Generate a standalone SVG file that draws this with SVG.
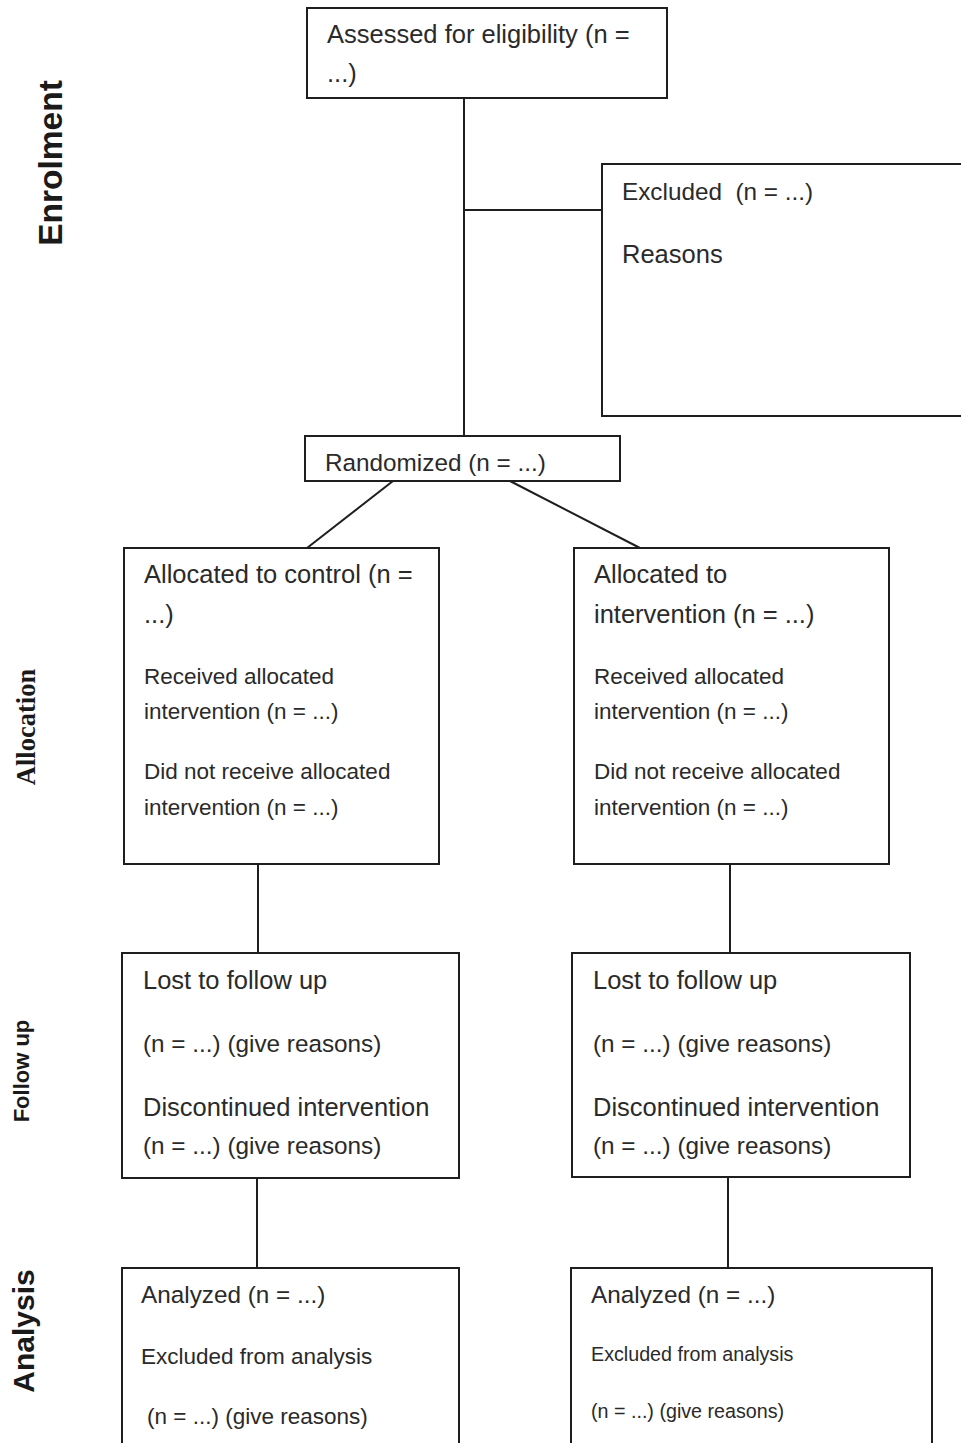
<svg xmlns="http://www.w3.org/2000/svg" width="961" height="1443" viewBox="0 0 961 1443">
<style>
.box{fill:none;stroke:#1e1e1e;stroke-width:2}
.ln{fill:none;stroke:#1e1e1e;stroke-width:2}
text{font-family:"Liberation Sans",Arial,sans-serif;fill:#2a2a2a}
.t{font-size:25.5px}
.m{font-size:24.3px}
.s{font-size:22.5px}
.xs{font-size:19.7px}
.side{font-weight:bold;fill:#1a1a1a}
</style>
<rect x="0" y="0" width="961" height="1443" fill="#ffffff"/>
<g id="connectors">
<polyline class="ln" points="464,98 464,436"/>
<line class="ln" x1="464" y1="210" x2="602" y2="210"/>
<line class="ln" x1="393" y1="481" x2="307" y2="548"/>
<line class="ln" x1="510" y1="481" x2="640" y2="548"/>
<line class="ln" x1="258" y1="864" x2="258" y2="953"/>
<line class="ln" x1="730" y1="864" x2="730" y2="953"/>
<line class="ln" x1="257" y1="1178" x2="257" y2="1268"/>
<line class="ln" x1="728" y1="1177" x2="728" y2="1268"/>
</g>
<g id="label-enrolment"><text class="side" transform="translate(62,163) rotate(-90)" text-anchor="middle" font-size="33.5">Enrolment</text></g>
<g id="label-allocation"><text class="side" transform="translate(35,727) rotate(-90)" text-anchor="middle" font-size="26.5" style="font-family:'Liberation Serif','Times New Roman',serif">Allocation</text></g>
<g id="label-followup"><text class="side" transform="translate(29,1071) rotate(-90)" text-anchor="middle" font-size="22">Follow up</text></g>
<g id="label-analysis"><text class="side" transform="translate(34,1331) rotate(-90)" text-anchor="middle" font-size="30">Analysis</text></g>
<g id="assessed">
<rect class="box" x="307" y="8" width="360" height="90"/>
<text class="t" x="327" y="43">Assessed for eligibility (n =</text>
<text class="t" x="327" y="82">...)</text>
</g>
<g id="excluded">
<rect class="box" x="602" y="164" width="370" height="252"/>
<text class="m" x="622" y="200">Excluded&#160; (n = ...)</text>
<text class="t" x="622" y="263">Reasons</text>
</g>
<g id="randomized">
<rect class="box" x="305" y="436" width="315" height="45"/>
<text class="m" x="325" y="471">Randomized (n = ...)</text>
</g>
<g id="alloc-control">
<rect class="box" x="124" y="548" width="315" height="316"/>
<text class="t" x="144" y="583">Allocated to control (n =</text>
<text class="t" x="144" y="623">...)</text>
<text class="s" x="144" y="684">Received allocated</text>
<text class="s" x="144" y="719">intervention (n = ...)</text>
<text class="s" x="144" y="779">Did not receive allocated</text>
<text class="s" x="144" y="815">intervention (n = ...)</text>
</g>
<g id="alloc-intervention">
<rect class="box" x="574" y="548" width="315" height="316"/>
<text class="t" x="594" y="583">Allocated to</text>
<text class="t" x="594" y="623">intervention (n = ...)</text>
<text class="s" x="594" y="684">Received allocated</text>
<text class="s" x="594" y="719">intervention (n = ...)</text>
<text class="s" x="594" y="779">Did not receive allocated</text>
<text class="s" x="594" y="815">intervention (n = ...)</text>
</g>
<g id="followup-control">
<rect class="box" x="122" y="953" width="337" height="225"/>
<text class="t" x="143" y="989">Lost to follow up</text>
<text class="m" x="143" y="1052">(n = ...) (give reasons)</text>
<text class="t" x="143" y="1116">Discontinued intervention</text>
<text class="m" x="143" y="1154">(n = ...) (give reasons)</text>
</g>
<g id="followup-intervention">
<rect class="box" x="572" y="953" width="338" height="224"/>
<text class="t" x="593" y="989">Lost to follow up</text>
<text class="m" x="593" y="1052">(n = ...) (give reasons)</text>
<text class="t" x="593" y="1116">Discontinued intervention</text>
<text class="m" x="593" y="1154">(n = ...) (give reasons)</text>
</g>
<g id="analysis-control">
<rect class="box" x="122" y="1268" width="337" height="190"/>
<text class="m" x="141" y="1303">Analyzed (n = ...)</text>
<text class="s" x="141" y="1364">Excluded from analysis</text>
<text class="s" x="147" y="1424">(n = ...) (give reasons)</text>
</g>
<g id="analysis-intervention">
<rect class="box" x="571" y="1268" width="361" height="190"/>
<text class="m" x="591" y="1303">Analyzed (n = ...)</text>
<text class="xs" x="591" y="1361">Excluded from analysis</text>
<text class="xs" x="591" y="1418">(n = ...) (give reasons)</text>
</g>
</svg>
